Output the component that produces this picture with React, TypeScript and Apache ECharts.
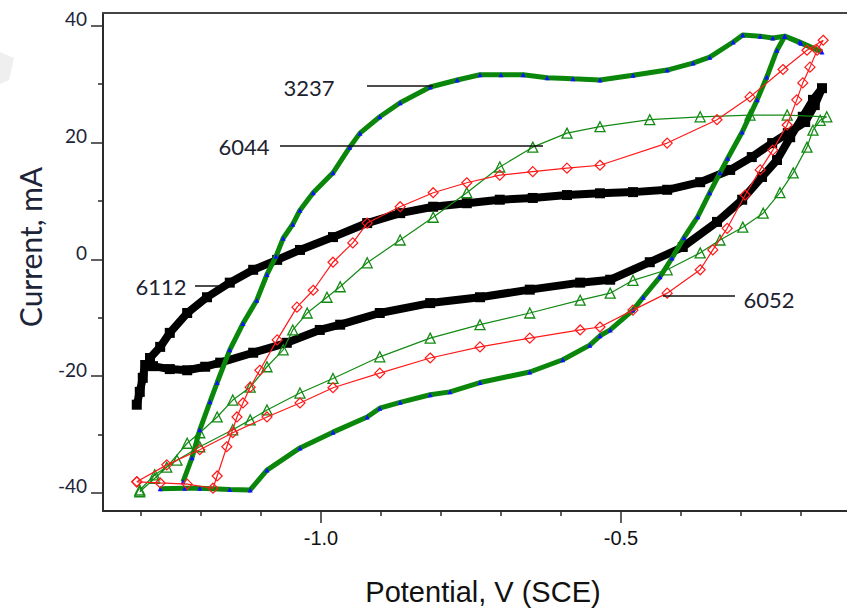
import React, { useEffect, useRef } from "react";
import * as echarts from "echarts";

// Potential (V vs SCE), Current (mA) pairs
const s3237: [number, number][] = [
  [-1.230, -38.1], [-1.215, -34.0], [-1.202, -29.2], [-1.185, -24.4], [-1.173, -21.1], [-1.152, -15.5],
  [-1.130, -11.0], [-1.107, -7.0], [-1.090, -2.6], [-1.075, 0.5], [-1.063, 3.6], [-1.047, 6.0],
  [-1.035, 8.4], [-1.013, 11.4], [-0.980, 14.8], [-0.952, 19.2], [-0.935, 21.6], [-0.902, 24.4],
  [-0.868, 26.8], [-0.818, 29.5], [-0.773, 30.7], [-0.735, 31.6], [-0.700, 31.6], [-0.663, 31.6],
  [-0.623, 31.1], [-0.580, 30.9], [-0.535, 30.7], [-0.480, 31.5], [-0.423, 32.4], [-0.380, 33.6],
  [-0.352, 34.6], [-0.313, 37.2], [-0.297, 38.4], [-0.268, 38.2], [-0.247, 37.9], [-0.227, 38.2],
  [-0.202, 37.2], [-0.165, 35.5], [-0.200, 37.0], [-0.227, 38.2], [-0.240, 35.8], [-0.257, 31.2],
  [-0.273, 27.3], [-0.298, 21.8], [-0.322, 17.3], [-0.335, 14.8], [-0.352, 11.4], [-0.372, 7.3],
  [-0.395, 3.7], [-0.415, 0.2], [-0.435, -3.0], [-0.463, -6.5], [-0.480, -8.7], [-0.518, -12.1],
  [-0.535, -13.1], [-0.552, -14.7], [-0.597, -17.2], [-0.652, -19.3], [-0.735, -21.1], [-0.785, -22.7],
  [-0.818, -23.2], [-0.868, -24.5], [-0.902, -25.5], [-0.923, -27.0], [-0.980, -29.6], [-1.035, -32.3],
  [-1.090, -36.1], [-1.118, -39.5], [-1.152, -39.4], [-1.202, -39.2], [-1.227, -39.2], [-1.268, -39.3],
];

const s6044: [number, number][] = [
  [-1.302, -39.8], [-1.277, -37.5], [-1.257, -35.6], [-1.223, -31.5], [-1.202, -29.7], [-1.173, -27.0],
  [-1.147, -24.1], [-1.118, -21.9], [-1.090, -18.4], [-1.063, -15.5], [-1.047, -12.1], [-1.023, -9.2],
  [-0.990, -6.5], [-0.968, -4.7], [-0.923, -0.6], [-0.868, 3.3], [-0.813, 7.2], [-0.757, 11.4],
  [-0.702, 15.8], [-0.647, 19.2], [-0.590, 21.6], [-0.535, 22.7], [-0.452, 23.9], [-0.368, 24.4],
  [-0.285, 24.7], [-0.223, 24.7], [-0.157, 24.4],
  [-0.168, 23.8], [-0.180, 22.1], [-0.190, 19.2], [-0.213, 14.8], [-0.235, 11.4], [-0.263, 7.9],
  [-0.297, 5.5], [-0.335, 3.3], [-0.368, 1.1], [-0.423, -1.8], [-0.480, -3.6], [-0.518, -5.8],
  [-0.568, -7.0], [-0.652, -9.2], [-0.735, -11.2], [-0.818, -13.5], [-0.902, -16.7], [-0.980, -20.4],
  [-1.035, -22.9], [-1.090, -25.8], [-1.118, -27.5], [-1.147, -29.2], [-1.202, -32.1], [-1.240, -34.4],
  [-1.277, -36.9], [-1.302, -39.5],
];

const s6052: [number, number][] = [
  [-1.307, -38.1], [-1.268, -38.3], [-1.223, -38.5], [-1.180, -39.2], [-1.173, -37.1], [-1.157, -32.1],
  [-1.140, -27.0], [-1.130, -24.6], [-1.118, -21.9], [-1.102, -19.0], [-1.073, -13.8], [-1.040, -8.2],
  [-1.013, -5.3], [-0.980, -0.5], [-0.947, 2.8], [-0.923, 6.2], [-0.868, 9.0], [-0.813, 11.4],
  [-0.757, 13.1], [-0.702, 14.4], [-0.647, 15.0], [-0.590, 15.6], [-0.535, 16.1], [-0.423, 19.9],
  [-0.340, 23.9], [-0.285, 27.8], [-0.230, 32.5], [-0.190, 35.8], [-0.163, 37.5],
  [-0.173, 35.8], [-0.185, 32.9], [-0.197, 30.2], [-0.207, 27.3], [-0.223, 23.0], [-0.247, 18.7],
  [-0.268, 15.3], [-0.293, 11.0], [-0.323, 5.3], [-0.347, 1.6], [-0.368, -1.8], [-0.423, -5.8],
  [-0.480, -8.7], [-0.535, -11.6], [-0.568, -12.1], [-0.652, -13.5], [-0.735, -15.0], [-0.818, -16.9],
  [-0.902, -19.5], [-0.980, -22.0], [-1.035, -24.6], [-1.090, -27.0], [-1.147, -29.7], [-1.202, -32.6],
  [-1.257, -35.2], [-1.307, -38.1],
];

const s6112: [number, number][] = [
  [-1.307, -24.9], [-1.302, -22.7], [-1.297, -20.3], [-1.293, -18.1],
  [-1.280, -18.3], [-1.252, -18.8], [-1.223, -19.0], [-1.193, -18.4], [-1.168, -17.7], [-1.113, -16.0],
  [-1.057, -14.3], [-1.002, -12.1], [-0.968, -11.2], [-0.902, -9.2], [-0.818, -7.5], [-0.735, -6.5],
  [-0.652, -5.2], [-0.568, -4.0], [-0.518, -3.5], [-0.452, -0.5], [-0.397, 2.1], [-0.340, 6.4],
  [-0.298, 10.2], [-0.265, 14.1], [-0.240, 17.0], [-0.218, 20.9], [-0.197, 24.4], [-0.180, 27.3],
  [-0.165, 29.3],
  [-0.177, 26.4], [-0.193, 23.5], [-0.222, 21.6], [-0.248, 19.9], [-0.282, 17.5], [-0.318, 15.3],
  [-0.368, 13.2], [-0.423, 11.9], [-0.480, 11.5], [-0.535, 11.3], [-0.590, 11.0], [-0.647, 10.5],
  [-0.702, 10.2], [-0.757, 9.6], [-0.813, 9.0], [-0.868, 7.9], [-0.923, 6.2], [-0.980, 3.8],
  [-1.035, 1.6], [-1.073, -0.1], [-1.113, -1.8], [-1.152, -4.0], [-1.190, -6.5], [-1.223, -9.2],
  [-1.252, -12.6], [-1.268, -15.0], [-1.285, -16.9],
];

const xMajorTicks = [-1.0, -0.5];
const xMinorTicks = [-1.3, -1.2, -1.1, -0.9, -0.8, -0.7, -0.6, -0.4, -0.3, -0.2];
const yMajorTicks = [-40, -20, 0, 20, 40];
const yMinorTicks = [-30, -10, 10, 30];

const X_MIN = -1.3633;
const X_MAX = -0.1233;
const Y_MIN = -43.1;
const Y_MAX = 42.17;

const AXIS_COLOR = "#2b2b2b";

export default function App() {
  const ref = useRef<HTMLDivElement>(null);

  useEffect(() => {
    if (!ref.current) return;
    const chart = echarts.init(ref.current, undefined, { renderer: "svg" });

    const labelLine = (x1: number, x2: number, y: number) => ({
      type: "line",
      shape: { x1, y1: y, x2, y2: y },
      style: { stroke: "#111", lineWidth: 1.5 },
      z: 100,
    });
    const labelText = (text: string, x: number, y: number) => ({
      type: "text",
      style: {
        text, x, y, fill: "#1c2230", fontSize: 22, fontFamily: "Lato",
        align: "center", verticalAlign: "middle",
      },
      z: 100,
    });

    chart.setOption({
      animation: false,
      backgroundColor: "#ffffff",
      grid: { left: 103, right: 0, top: 13, bottom: 101, containLabel: false },
      xAxis: [
        {
          type: "value", min: X_MIN, max: X_MAX, position: "bottom",
          name: "Potential, V (SCE)", nameLocation: "middle", nameGap: 66,
          nameTextStyle: { fontFamily: "Liberation Sans", fontSize: 29, color: "#111", padding: [0, 0, 0, 16] },
          axisLine: { show: true, onZero: false, lineStyle: { color: AXIS_COLOR, width: 2 } },
          axisTick: { show: true, length: 12, customValues: xMajorTicks, lineStyle: { color: AXIS_COLOR, width: 1.5 } },
          axisLabel: {
            customValues: xMajorTicks, formatter: (v: number) => v.toFixed(1),
            fontFamily: "Liberation Sans", fontSize: 20, color: "#111", margin: 17,
          },
          splitLine: { show: false },
        },
        {
          type: "value", min: X_MIN, max: X_MAX, position: "bottom",
          axisLine: { show: false, onZero: false },
          axisTick: { show: true, length: 5, customValues: xMinorTicks, lineStyle: { color: AXIS_COLOR, width: 1.5 } },
          axisLabel: { show: false },
          splitLine: { show: false },
        },
        {
          type: "value", min: X_MIN, max: X_MAX, position: "top",
          axisLine: { show: true, onZero: false, lineStyle: { color: "#444", width: 2 } },
          axisTick: { show: false }, axisLabel: { show: false }, splitLine: { show: false },
        },
      ],
      yAxis: [
        {
          type: "value", min: Y_MIN, max: Y_MAX, position: "left",
          name: "Current, mA", nameLocation: "middle", nameGap: 58,
          nameTextStyle: { fontFamily: "Lato", fontSize: 30, color: "#1c2438", padding: [0, 0, 0, 30] },
          axisLine: { show: true, onZero: false, lineStyle: { color: AXIS_COLOR, width: 2 } },
          axisTick: { show: true, length: 12, customValues: yMajorTicks, lineStyle: { color: AXIS_COLOR, width: 1.5 } },
          axisLabel: {
            customValues: yMajorTicks, fontFamily: "Lato", fontSize: 19, color: "#1c2438",
            margin: 16, verticalAlign: "bottom", lineHeight: 14,
          },
          splitLine: { show: false },
        },
        {
          type: "value", min: Y_MIN, max: Y_MAX, position: "left",
          axisLine: { show: false, onZero: false },
          axisTick: { show: true, length: 5, customValues: yMinorTicks, lineStyle: { color: AXIS_COLOR, width: 1.5 } },
          axisLabel: { show: false }, splitLine: { show: false },
        },
      ],
      series: [
        {
          name: "6112", type: "line", data: s6112, xAxisIndex: 0, yAxisIndex: 0,
          symbol: "rect", symbolSize: 10, showSymbol: true,
          lineStyle: { color: "#000", width: 8 }, itemStyle: { color: "#000" }, z: 2,
        },
        {
          name: "6044", type: "line", data: s6044, xAxisIndex: 0, yAxisIndex: 0,
          symbol: "triangle", symbolSize: 10, showSymbol: true,
          lineStyle: { color: "#138a13", width: 1.2 },
          itemStyle: { color: "rgba(255,255,255,0)", borderColor: "#138a13", borderWidth: 1.3 }, z: 3,
        },
        {
          name: "3237", type: "line", data: s3237, xAxisIndex: 0, yAxisIndex: 0,
          symbol: "triangle", symbolSize: 5, showSymbol: true,
          lineStyle: { color: "#0a870a", width: 5 }, itemStyle: { color: "#1010ff" }, z: 4,
        },
        {
          name: "6052", type: "line", data: s6052, xAxisIndex: 0, yAxisIndex: 0,
          symbol: "diamond", symbolSize: 10, showSymbol: true,
          lineStyle: { color: "#ff1a1a", width: 1.2 },
          itemStyle: { color: "rgba(255,255,255,0)", borderColor: "#ff1a1a", borderWidth: 1.2 }, z: 5,
        },
      ],
      graphic: [
        {
          type: "polygon",
          shape: { points: [[0, 52], [14, 58], [9, 80], [0, 84]] },
          style: { fill: "#efefef" }, z: 0,
        },
        labelLine(367, 433, 86),
        labelText("3237", 309, 87),
        labelLine(280, 543, 146),
        labelText("6044", 244, 146),
        labelLine(195, 220, 286),
        labelText("6112", 161, 286),
        labelLine(663, 735, 296),
        labelText("6052", 769, 299),
      ],
    });

    return () => chart.dispose();
  }, []);

  return (
    <div
      ref={ref}
      style={{ position: "absolute", left: 0, top: 0, width: 847, height: 612, background: "#fff" }}
    />
  );
}
